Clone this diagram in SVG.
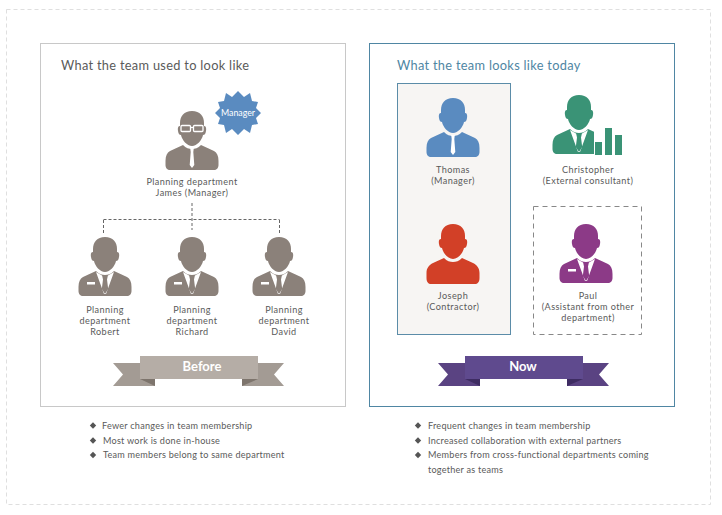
<svg xmlns="http://www.w3.org/2000/svg" width="722" height="515" viewBox="0 0 722 515">
<style>
text{font-family:"Lato","Noto Sans","Liberation Sans",sans-serif;font-size:9.100px;fill:#5a5a5a;letter-spacing:.42px}
.c{text-anchor:middle}
.t{font-size:12.800px;letter-spacing:.3px}
.b{font-size:9.100px;letter-spacing:.24px}
.r{font-size:13px;font-weight:700;fill:#fff;text-anchor:middle;letter-spacing:0}
.g{fill:#8b817a}
.cn{fill:none;stroke:#666;stroke-width:1;stroke-dasharray:3 2}
</style>
<defs>
<path id="head" d="M0,0C-8,0-12,5-12,12L-12,15C-14,15-14.500,17-14,20C-13.500,23-12.500,24-11,24C-10,29-5,35 0,35C5,35 10,29 11,24C12.500,24 13.500,23 14,20C14.500,17 14,15 12,15L12,12C12,5 8,0 0,0Z"/>
<path id="body" d="M-9,34L-22,40C-25,41.500-26.500,45-26.500,50L-26.500,54C-26.500,57-24.500,59-22,59L22,59C24.500,59 26.500,57 26.500,54L26.500,50C26.500,45 25,41.500 22,40L9,34C6,37 3,38 0,38C-3,38-6,37-9,34Z"/>
<g id="suit"><use href="#head"/><use href="#body"/><path d="M-9,35L-1,57H1L9,35 3,38.500H-3Z" fill="#fff"/><path d="M-3,38H3L2,42.500 3.200,52 0,57-3.200,52-2,42.500Z"/></g>
<g id="badged"><use href="#suit"/><rect x="-18" y="45" width="8" height="2.500" fill="#fff"/></g>
<g id="tie"><use href="#head"/><use href="#body"/><path d="M-1.800,37L1.800,37 1.300,41 2.300,54 0,57-2.300,54-1.300,41Z" fill="#fff"/></g>
<path id="dia" d="M0,-3.200L3.200,0 0,3.200-3.200,0Z" fill="#555"/>
</defs>
<rect x="0" y="0" width="722" height="515" fill="#fff"/>
<rect x="6.500" y="9.500" width="704" height="495" fill="none" stroke="#dfdfdf" stroke-dasharray="4 3"/>
<rect x="40.500" y="43.500" width="305" height="363" fill="#fff" stroke="#c8c8c8"/>
<rect x="369.500" y="43.500" width="305" height="363" fill="#fff" stroke="#4f86a3"/>
<text class="t" x="61" y="70">What the team used to look like</text>
<text class="t" x="397" y="70" style="fill:#4f86a3">What the team looks like today</text>
<g id="connectors">
<path class="cn" d="M192,203V230M103.500,219.500H279.500M103.500,220V234M279.500,220V234"/>
</g>
<g id="james" class="g">
<use href="#tie" x="192" y="111"/>
<g fill="none" stroke="#fff" stroke-width="1.300"><rect x="181" y="125.500" width="9.500" height="6" rx="1"/><rect x="193.500" y="125.500" width="9.500" height="6" rx="1"/><path d="M190.500,127.500H193.500"/></g>
<text class="c" x="192" y="185">Planning department</text>
<text class="c" x="192" y="196">James (Manager)</text>
</g>
<g id="manager-badge">
<polygon fill="#5a8bc0" points="261,113 256,118 258,124 252,125 250,133 244,129 238,135 232,129 226,133 224,125 218,124 220,118 215,113 220,108 218,102 224,101 226,93 232,97 238,91 244,97 250,93 252,101 258,102 256,108"/>
<text class="c" x="238" y="116" style="fill:#fff;font-size:8.800px;letter-spacing:0">Manager</text>
</g>
<g id="robert" class="g"><use href="#badged" x="105" y="237"/><text class="c" x="105" y="313">Planning</text><text class="c" x="105" y="324">department</text><text class="c" x="105" y="335">Robert</text></g>
<g id="richard" class="g"><use href="#badged" x="192" y="237"/><text class="c" x="192" y="313">Planning</text><text class="c" x="192" y="324">department</text><text class="c" x="192" y="335">Richard</text></g>
<g id="david" class="g"><use href="#badged" x="279" y="237"/><text class="c" x="284" y="313">Planning</text><text class="c" x="284" y="324">department</text><text class="c" x="284" y="335">David</text></g>
<g id="before-ribbon">
<path fill="#a39b94" d="M113,363H155V386H113L123,374.500ZM284,363H242V386H284L274,374.500Z"/>
<path fill="#7d746c" d="M140,379L155,386V379ZM258,379L242,386V379Z"/>
<rect x="140" y="356" width="118" height="23" fill="#b5ada6"/>
<text class="r" x="202" y="371">Before</text>
</g>
<g id="thomas">
<rect x="397.500" y="83.500" width="113" height="251" fill="#f7f5f3" stroke="#5b8ca8"/>
<g fill="#5a8bc0"><use href="#tie" x="453" y="98"/></g>
<text class="c" x="453" y="173">Thomas</text><text class="c" x="453" y="184">(Manager)</text>
</g>
<g id="christopher" fill="#3a9376">
<use href="#suit" x="579" y="95"/>
<rect x="594" y="126" width="32" height="31" fill="#fff"/>
<rect x="595" y="142" width="7" height="13"/><rect x="605" y="128" width="7" height="27"/><rect x="615" y="135" width="7" height="20"/>
<text class="c" x="588" y="173">Christopher</text><text class="c" x="588" y="184">(External consultant)</text>
</g>
<g id="joseph" fill="#d24027">
<use href="#head" x="453" y="224"/>
<path d="M444,258C447,261 450,262 453,262C456,262 459,261 462,258L473,263C477,265 479.500,268 479.500,273V278C479.500,282 477.500,284 475,284H431C428.500,284 426.500,282 426.500,278V273C426.500,268 429,265 433,263Z"/>
<text class="c" x="453" y="299">Joseph</text><text class="c" x="453" y="310">(Contractor)</text>
</g>
<g id="paul" fill="#8c3a87">
<rect x="533.500" y="206.500" width="108" height="128" fill="none" stroke="#888" stroke-dasharray="5 4"/>
<use href="#badged" x="586" y="224"/>
<text class="c" x="588" y="299">Paul</text><text class="c" x="588" y="310">(Assistant from other</text><text class="c" x="588" y="321">department)</text>
</g>
<g id="now-ribbon">
<path fill="#5a4382" d="M438,363H480V386H438L448,374.500ZM609,363H567V386H609L599,374.500Z"/>
<path fill="#3e2c62" d="M465,379L480,386V379ZM583,379L567,386V379Z"/>
<rect x="465" y="356" width="118" height="23" fill="#5f4a8e"/>
<text class="r" x="523" y="371">Now</text>
</g>
<g id="before-notes">
<use href="#dia" x="93" y="425.500"/><text class="b" x="102" y="429">Fewer changes in team membership</text>
<use href="#dia" x="93" y="440.500"/><text class="b" x="103" y="444">Most work is done in-house</text>
<use href="#dia" x="93" y="455"/><text class="b" x="103" y="458">Team members belong to same department</text>
</g>
<g id="now-notes">
<use href="#dia" x="418" y="425.500"/><text class="b" x="428" y="429">Frequent changes in team membership</text>
<use href="#dia" x="418" y="440.500"/><text class="b" x="428" y="444">Increased collaboration with external partners</text>
<use href="#dia" x="418" y="455"/><text class="b" x="428" y="458">Members from cross-functional departments coming</text>
<text class="b" x="428" y="473">together as teams</text>
</g>
</svg>
